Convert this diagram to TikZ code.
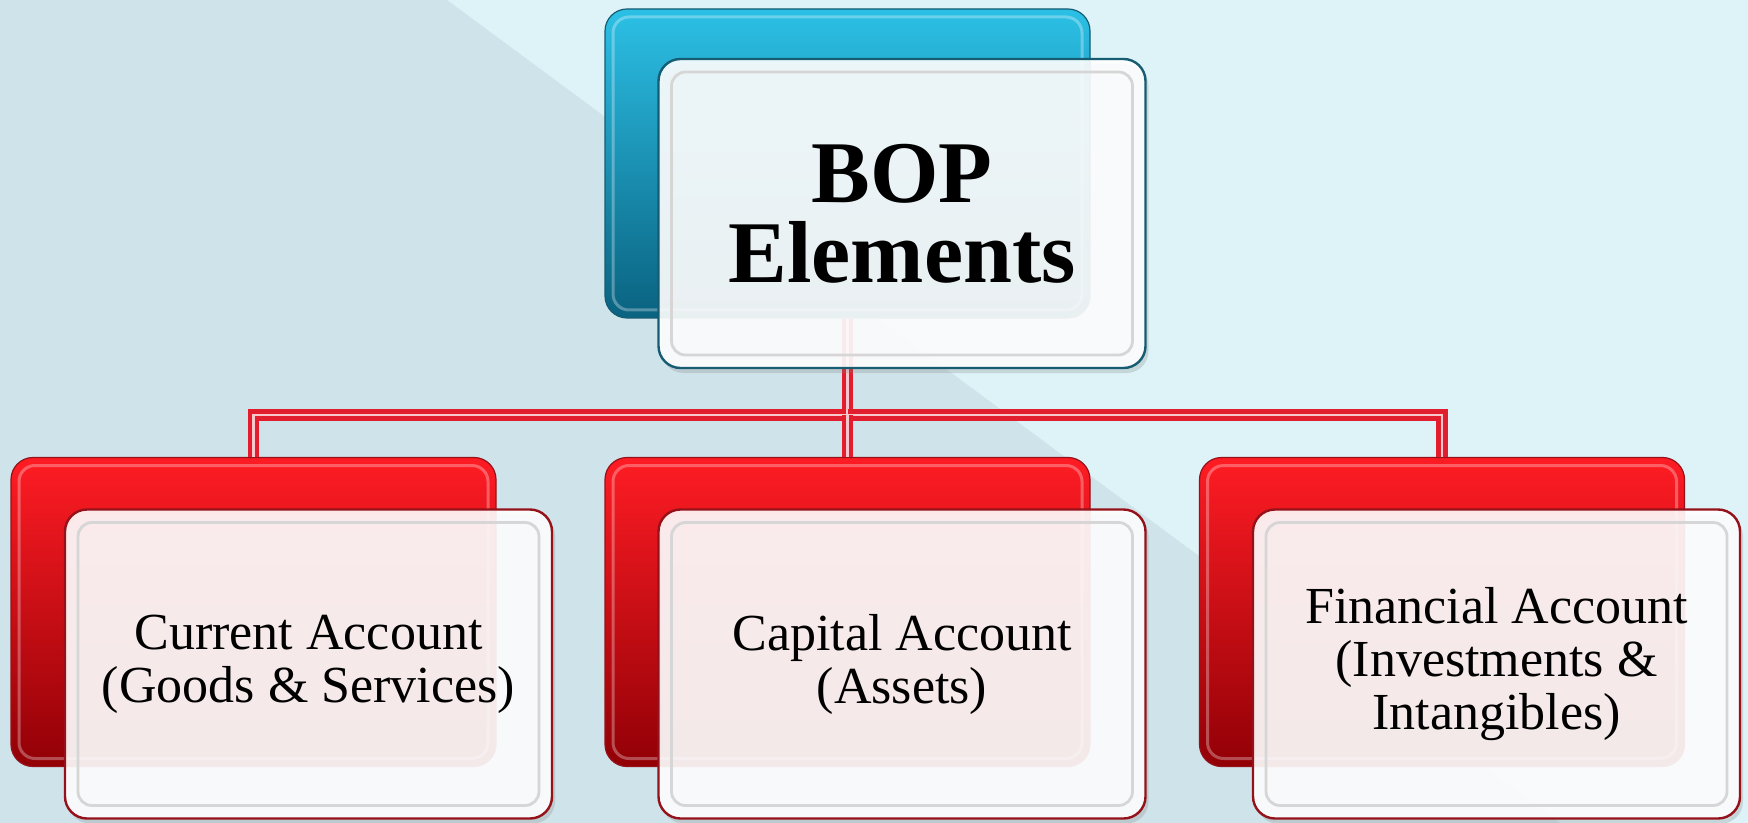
\documentclass[tikz,border=0pt]{standalone}
\usepackage{fontspec}
\setmainfont{Liberation Serif}
\usetikzlibrary{shadows}

\definecolor{bgLight}{RGB}{221,243,248}
\definecolor{bgDark}{RGB}{207,228,234}
\definecolor{blueTop}{RGB}{44,192,230}
\definecolor{blueMid}{RGB}{26,152,192}
\definecolor{blueBot}{RGB}{10,98,128}
\definecolor{blueEdge}{RGB}{22,92,114}
\definecolor{redTop}{RGB}{255,28,36}
\definecolor{redMid}{RGB}{226,0,10}
\definecolor{redBot}{RGB}{145,0,6}
\definecolor{redEdge}{RGB}{150,18,26}
\definecolor{linkRed}{RGB}{226,30,46}

\newcommand{\toptext}{\bfseries\fontsize{44}{40}\selectfont}
\newcommand{\subtext}{\fontsize{26}{26.5}\selectfont}

\tikzset{
    backbox/.style={rectangle, rounded corners=11pt, minimum width=242.5pt, minimum height=154.5pt,
        inner sep=0pt, line width=.6pt,
        path picture={\draw[white, opacity=.3, line width=1.5pt, rounded corners=8pt]
            ([shift={(4pt,-4pt)}]path picture bounding box.north west) rectangle
            ([shift={(-4pt,4pt)}]path picture bounding box.south east);}},
    bluebox/.style={backbox, draw=blueEdge, top color=blueTop, middle color=blueMid, bottom color=blueBot},
    redbox/.style={backbox, draw=redEdge, top color=redTop, middle color=redMid, bottom color=redBot},
    frontbox/.style={rectangle, rounded corners=11pt, minimum width=243.5pt, minimum height=154.5pt,
        inner sep=0pt, align=center, fill=white, fill opacity=.9, text opacity=1, line width=1.2pt,
        drop shadow={shadow xshift=1.5pt, shadow yshift=-2.5pt, opacity=.25},
        path picture={\draw[black!16, line width=1.4pt, rounded corners=7pt]
            ([shift={(6.5pt,-6.5pt)}]path picture bounding box.north west) rectangle
            ([shift={(-6.5pt,6.5pt)}]path picture bounding box.south east);}},
    link/.style={draw=linkRed, line width=2.3pt, double=linkRed!25!white, double distance=1.1pt},
}

\begin{document}
\begin{tikzpicture}[x=0.5pt, y=-0.5pt]

    % Background
    \fill[bgLight] (0,0) rectangle (1748,823);
    \fill[bgDark] (0,0) -- (447,0) -- (1560,823) -- (0,823) -- cycle;
    \useasboundingbox (0,0) rectangle (1748,823);

    % Back boxes
    \node[bluebox] (bopback) at (847.5,163.5) {};
    \node[redbox] (curback) at (253.5,612) {};
    \node[redbox] (capback) at (847.5,612) {};
    \node[redbox] (finback) at (1442,612) {};

    % Links
    \coordinate (fork) at (847.5,415);
    \draw[link] (bopback.south) -- (fork) -| (curback.north);
    \draw[link] (fork) -| (finback.north);
    \draw[link] (fork) -- (capback.north);

    % Front boxes
    \node[frontbox, draw=blueEdge, font=\toptext] (bop) at (902,213.5) {BOP\\Elements};
    \node[frontbox, draw=redEdge, font=\subtext] (current) at (308.5,664) {Current Account\\(Goods \& Services)};
    \node[frontbox, draw=redEdge, font=\subtext] (capital) at (902,664) {Capital Account\\(Assets)};
    \node[frontbox, draw=redEdge, font=\subtext] (financial) at (1496.5,664) {Financial Account\\(Investments \&\\Intangibles)};

\end{tikzpicture}
\end{document}
